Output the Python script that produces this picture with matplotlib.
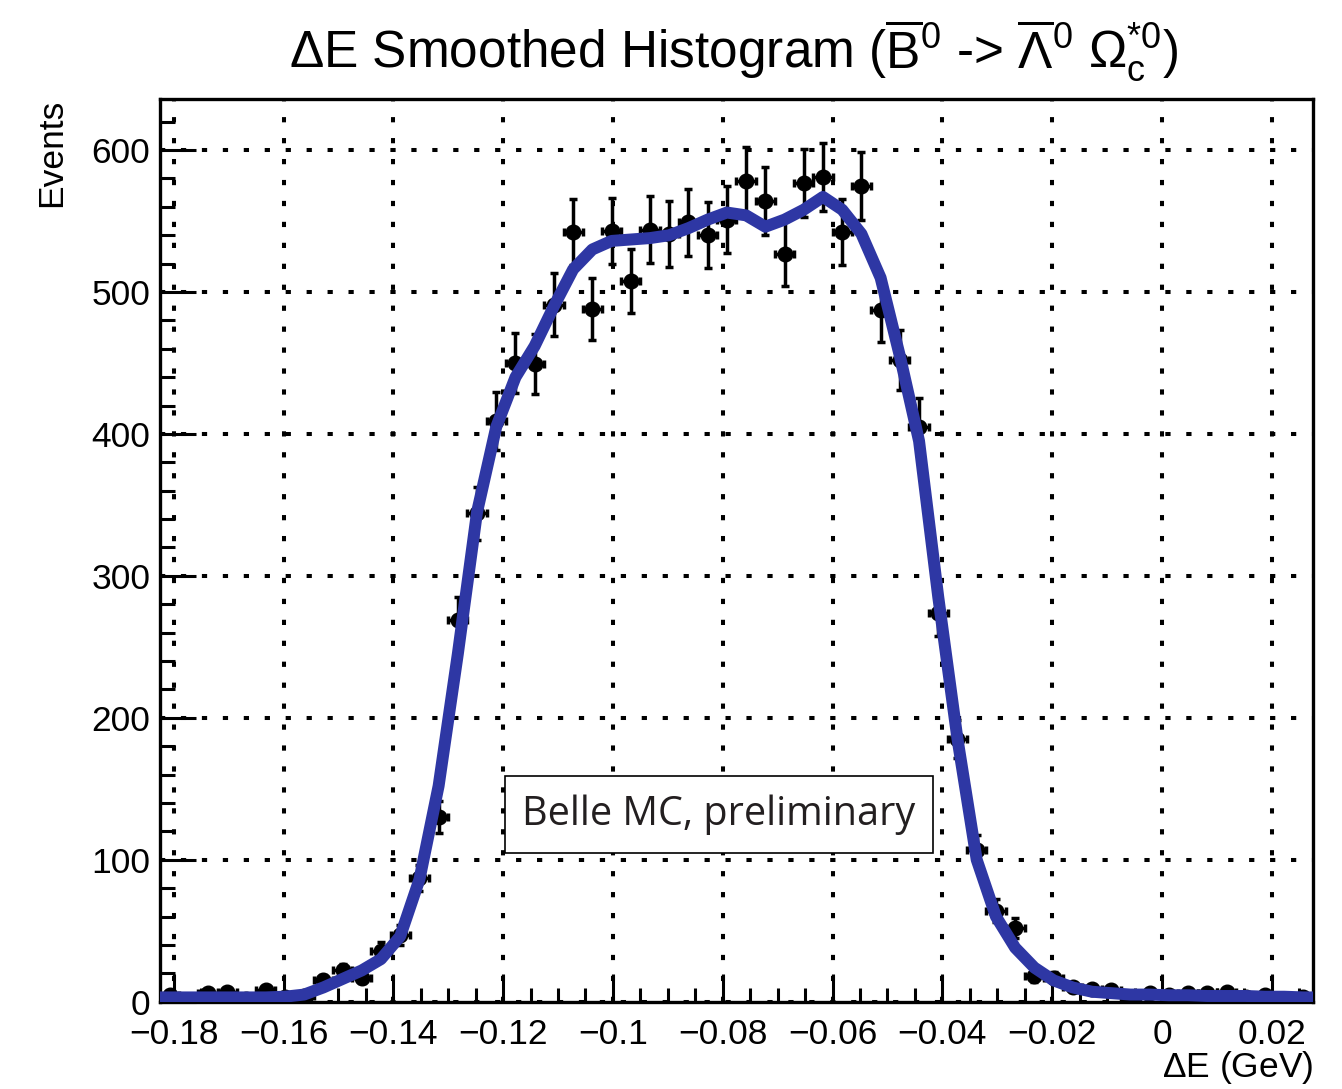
import numpy as np
import matplotlib.pyplot as plt
import matplotlib.ticker as ticker
from matplotlib.patches import Rectangle

# ------------- data -------------
xlo, xhi = -0.1825, 0.0275
nbins = 60
counts = [5, 1, 6, 7, 2, 8, 3, 4, 15, 22,
          17, 36, 47, 87, 130, 269, 344, 409, 450, 449,
          491, 542, 488, 543, 508, 544, 541, 549, 540, 551,
          578, 564, 527, 577, 581, 542, 575, 487, 452, 405,
          274, 185, 107, 64, 52, 18, 17, 10, 9, 8,
          1, 6, 5, 6, 6, 7, 3, 5, 1, 3]
# smoothed curve, read at the bin centres
smooth = [3, 3, 3, 3, 3, 3, 3.5, 5, 10, 16,
          22, 30, 46, 86, 152, 245, 345, 405, 440, 462,
          490, 516, 530, 536, 537, 538, 540, 545, 551, 556,
          554, 546, 551, 558, 567, 558, 541, 510, 455, 395,
          285, 185, 100, 60, 38, 24, 15, 10, 7, 6,
          5, 5, 4.5, 4.5, 4, 4, 4, 3.5, 3.5, 3]
smooth_left, smooth_right = 3, 3

xticks = [-0.18, -0.16, -0.14, -0.12, -0.1, -0.08, -0.06, -0.04, -0.02, 0, 0.02]
xticklabels = ["\u22120.18", "\u22120.16", "\u22120.14", "\u22120.12", "\u22120.1",
               "\u22120.08", "\u22120.06", "\u22120.04", "\u22120.02", "0", "0.02"]
yticks = [0, 100, 200, 300, 400, 500, 600]

edges = np.linspace(xlo, xhi, nbins + 1)
centers = 0.5 * (edges[1:] + edges[:-1])
width = edges[1] - edges[0]
counts = np.array(counts, dtype=float)
errs = np.sqrt(counts)

plt.rcParams['font.family'] = ['Liberation Sans', 'DejaVu Sans']
plt.rcParams['mathtext.fontset'] = 'custom'
plt.rcParams['mathtext.rm'] = 'Liberation Sans'
plt.rcParams['mathtext.it'] = 'Liberation Sans'
plt.rcParams['mathtext.sf'] = 'Liberation Sans'

# ------------- plot -------------
fig = plt.figure(figsize=(13.42, 10.89), dpi=100)
ax = fig.add_axes([0.1192, 0.0802, 0.8592, 0.8289])

ax.grid(True, which='major', color='black', linestyle=(0, (1.3, 3.9)), linewidth=2.9)
ax.set_axisbelow(True)

ax.errorbar(centers, counts, yerr=errs, xerr=width / 2, fmt='o', color='black',
            markersize=10.5, elinewidth=2.5, capsize=3, capthick=2.5, zorder=3)

cx = np.concatenate([[xlo], centers, [xhi]])
cy = np.concatenate([[smooth_left], smooth, [smooth_right]])
ax.plot(cx, cy, color='#2E37A4', linewidth=8.6, solid_capstyle='butt',
        solid_joinstyle='round', zorder=4)

ax.set_xlim(xlo, xhi)
ax.set_ylim(0, 636)
ax.set_xticks(xticks)
ax.set_xticklabels(xticklabels)
ax.set_yticks(yticks)
ax.xaxis.set_minor_locator(ticker.MultipleLocator(0.005))
ax.yaxis.set_minor_locator(ticker.MultipleLocator(20))
ax.tick_params(axis='both', which='both', direction='in', top=False, right=False,
               width=2.2, labelsize=25.5, colors='black')
ax.tick_params(axis='x', which='major', length=20, pad=12)
ax.tick_params(axis='x', which='minor', length=10)
ax.tick_params(axis='y', which='major', length=26, pad=7)
ax.tick_params(axis='y', which='minor', length=11)
for s in ax.spines.values():
    s.set_linewidth(2.4)

ax.set_ylabel('Events', fontsize=25.5, loc='top')
ax.yaxis.set_label_coords(-0.08, 1.0)
ax.set_xlabel(r'$\Delta$E (GeV)', fontsize=25.5, loc='right')
ax.xaxis.set_label_coords(1.0, -0.052)

fig.text(0.547, 0.953,
         r'$\Delta$E Smoothed Histogram ($\overline{\mathrm{B}}^{0}$ -> $\overline{\Lambda}^{0}$ $\Omega_{\mathrm{c}}^{*0}$)',
         fontsize=37, ha='center', va='center')

# label box
ax.add_patch(Rectangle((0.299, 0.165), 0.371, 0.085, transform=ax.transAxes,
                       facecolor='white', edgecolor='black', linewidth=1.2, zorder=5))
ax.text(0.4845, 0.2075, 'Belle MC, preliminary', transform=ax.transAxes,
        fontsize=28.5, family=['Open Sans', 'DejaVu Sans'], ha='center', va='center',
        color='#231f20', zorder=6)

fig.savefig('out.png', dpi=100)
